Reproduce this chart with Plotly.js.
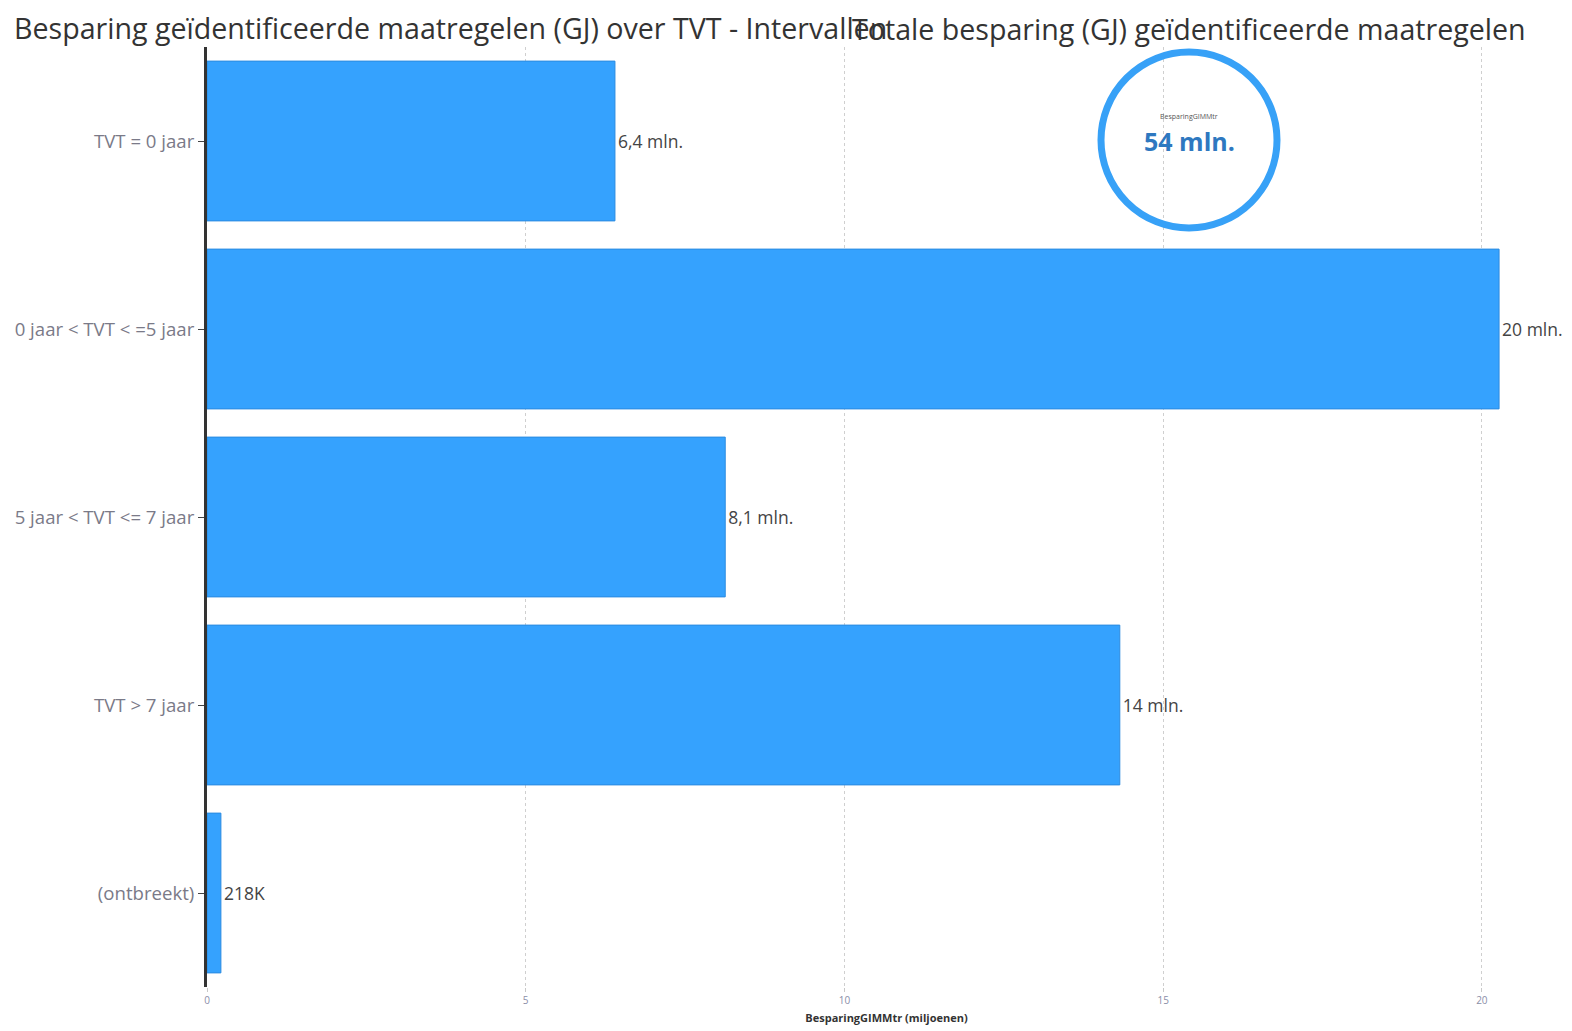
<!DOCTYPE html>
<html>
<head>
<meta charset="utf-8">
<script src="https://cdn.plot.ly/plotly-3.0.1.min.js"></script>
<style>html,body{margin:0;padding:0;background:#fff;}#chart{width:1572px;height:1031px;}</style>
</head>
<body>
<div id="chart"></div>
<script>
const categories = ["TVT = 0 jaar", "0 jaar < TVT < =5 jaar", "5 jaar < TVT <= 7 jaar", "TVT > 7 jaar", "(ontbreekt)"];
const values = [6.4, 20.27, 8.13, 14.32, 0.218];
const valueLabels = ["6,4 mln.", "20 mln.", "8,1 mln.", "14 mln.", "218K"];
const tickValues = [0, 5, 10, 15, 20];
const tickLabels = ["0", "5", "10", "15", "20"];
const cardLabel = "BesparingGIMMtr";
const cardValue = "54 mln.";
const leftTitle = "Besparing geïdentificeerde maatregelen (GJ) over TVT - Intervallen";
const rightTitle = "Totale besparing (GJ) geïdentificeerde maatregelen";
const xTitle = "BesparingGIMMtr (miljoenen)";

const FONT = "Open Sans, Noto Sans, sans-serif";
const L = 207, R = 1566, T = 47, B = 987, W = 1572, H = 1031;
const px = X => (X - L) / (R - L);
const py = Y => (B - Y) / (B - T);

const trace = {
  type: "bar",
  orientation: "h",
  y: categories,
  x: values,
  text: valueLabels,
  textposition: "outside",
  cliponaxis: false,
  textfont: {family: FONT, size: 17.5, color: "#444"},
  marker: {color: "#35A2FE", line: {color: "#2B8BE0", width: 1}},
  hoverinfo: "skip"
};

const layout = {
  width: W, height: H,
  margin: {l: L, r: W - R, t: T, b: H - B, pad: 0},
  paper_bgcolor: "#fff",
  plot_bgcolor: "#fff",
  showlegend: false,
  bargap: 0.15,
  font: {family: FONT},
  xaxis: {
    range: [0, 21.32],
    tickvals: tickValues,
    ticktext: tickLabels,
    tickfont: {family: FONT, size: 10, color: "#8a8ea8"},
    showgrid: true,
    gridcolor: "#cfcfcf",
    griddash: "3px,3px",
    gridwidth: 1,
    zeroline: false,
    showline: false,
    ticks: "outside",
    ticklen: 4,
    tickcolor: "#c8c8c8",
    title: {text: "<b>" + xTitle + "</b>", font: {family: FONT, size: 11, color: "#333"}, standoff: 8}
  },
  yaxis: {
    type: "category",
    categoryorder: "array",
    categoryarray: categories,
    autorange: "reversed",
    showgrid: false,
    zeroline: false,
    showline: true,
    linecolor: "#333",
    linewidth: 3,
    ticks: "outside",
    ticklen: 6,
    tickcolor: "#444",
    tickfont: {family: FONT, size: 18.6, color: "#7a7a88"}
  },
  shapes: [{
    type: "circle",
    xref: "paper", yref: "paper",
    xsizemode: "pixel", ysizemode: "pixel",
    xanchor: px(1189), yanchor: py(140),
    x0: -88, x1: 88, y0: -88, y1: 88,
    line: {color: "#37A1F7", width: 7},
    fillcolor: "rgba(0,0,0,0)"
  }],
  annotations: [
    {text: leftTitle, xref: "paper", yref: "paper", x: px(12), y: py(27), xanchor: "left", yanchor: "middle",
     showarrow: false, font: {family: FONT, size: 28.6, color: "#333"}},
    {text: rightTitle, xref: "paper", yref: "paper", x: px(850), y: py(29), xanchor: "left", yanchor: "middle",
     showarrow: false, font: {family: FONT, size: 28.6, color: "#333"}},
    {text: cardLabel, xref: "paper", yref: "paper", x: px(1189), y: py(116), xanchor: "center", yanchor: "middle",
     showarrow: false, font: {family: FONT, size: 7, color: "#555"}},
    {text: "<b>" + cardValue + "</b>", xref: "paper", yref: "paper", x: px(1189), y: py(141), xanchor: "center", yanchor: "middle",
     showarrow: false, font: {family: FONT, size: 25, color: "#2E78C0"}}
  ]
};

Plotly.newPlot("chart", [trace], layout, {displayModeBar: false, staticPlot: true});
</script>
</body>
</html>
